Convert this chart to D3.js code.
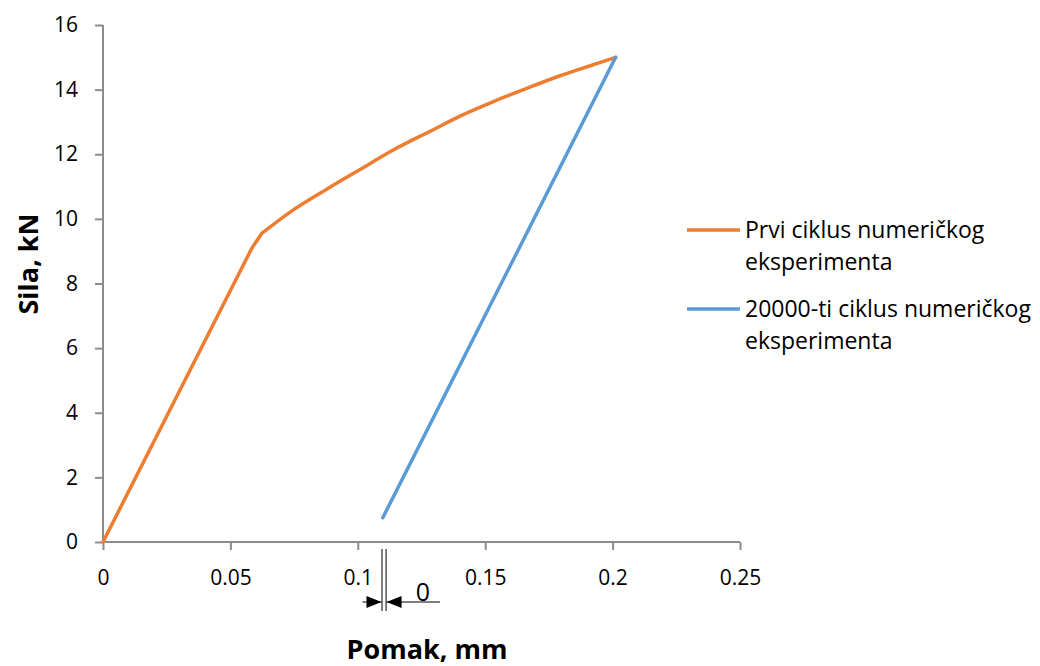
<!DOCTYPE html>
<html>
<head>
<meta charset="utf-8">
<script src="https://d3js.org/d3.v7.min.js"></script>
<style>
  body { margin: 0; background: #fff; }
  svg text { font-family: "Open Sans", sans-serif; fill: #000; }
</style>
</head>
<body>
<svg id="chart" width="1040" height="666"></svg>
<script>
// first cycle (orange) - displacement mm / force kN
var prviX = [0, 0.0584, 0.0623, 0.0747, 0.0878, 0.1009, 0.1139, 0.1296, 0.1401, 0.1532, 0.1663, 0.1794, 0.1924, 0.2012];
var prviY = [0, 9.09, 9.55, 10.28, 10.92, 11.53, 12.13, 12.76, 13.18, 13.63, 14.04, 14.43, 14.77, 15.0];
var kink = 2; // index where the straight elastic part ends
// 20000th cycle (blue)
var cikX = [0.1098, 0.2012];
var cikY = [0.75, 15.0];

var seriesLines = [["Prvi ciklus numeričkog", "eksperimenta"], ["20000-ti ciklus numeričkog", "eksperimenta"]];
var colors = ["#ED7D31", "#5B9BD5"];

var xTicks = [0, 0.05, 0.1, 0.15, 0.2, 0.25];
var yTicks = [0, 2, 4, 6, 8, 10, 12, 14, 16];

// offset marker between the two vertical lines (value "0")
var offsetX = [0.1095, 0.1111];
var offsetLabel = "0";

var svg = d3.select("#chart");
var x = d3.scaleLinear().domain([0, 0.25]).range([103, 740]);
var y = d3.scaleLinear().domain([0, 16]).range([542, 25]);
var axisColor = "#8c8c8c";

// axes
var xAxis = svg.append("g").attr("transform", "translate(0," + y(0) + ")")
  .call(d3.axisBottom(x).tickValues(xTicks).tickSize(8).tickPadding(20)
    .tickFormat(function(d){ return String(+d.toFixed(2)); }));
var yAxis = svg.append("g").attr("transform", "translate(" + x(0) + ",0)")
  .call(d3.axisLeft(y).tickValues(yTicks).tickSize(8).tickPadding(17));

[xAxis, yAxis].forEach(function(a){
  a.select(".domain").attr("stroke", axisColor).attr("stroke-width", 2);
  a.selectAll(".tick line").attr("stroke", axisColor).attr("stroke-width", 2);
  a.selectAll(".tick text").style("font-size", "21px").attr("fill", "#000");
});
xAxis.selectAll(".domain").attr("d", "M" + x(0) + ",0H" + x(0.25));
yAxis.selectAll(".domain").attr("d", "M0," + y(0) + "V" + y(16));

// series
var lin = d3.line().x(function(d){ return x(d[0]); }).y(function(d){ return y(d[1]); });
var smooth = d3.line().curve(d3.curveMonotoneX)
  .x(function(d){ return x(d[0]); }).y(function(d){ return y(d[1]); });
var prvi = d3.zip(prviX, prviY);
var paths = [
  { d: lin(prvi.slice(0, kink + 1)) + smooth(prvi.slice(kink)).replace(/^M[^A-Z]*/, ""), c: colors[0] },
  { d: lin(d3.zip(cikX, cikY)), c: colors[1] }
];
svg.append("g").selectAll("path").data(paths).enter().append("path")
  .attr("d", function(p){ return p.d; })
  .attr("fill", "none")
  .attr("stroke", function(p){ return p.c; })
  .attr("stroke-width", 3.5)
  .attr("stroke-linejoin", "round")
  .attr("stroke-linecap", "round");

// axis titles
svg.append("text").attr("x", 427).attr("y", 659).attr("text-anchor", "middle")
  .style("font-size", "27px").style("font-weight", "bold").text("Pomak, mm");
svg.append("text").attr("transform", "translate(38,264) rotate(-90)").attr("text-anchor", "middle")
  .style("font-size", "27px").style("font-weight", "bold").text("Sila, kN");

// legend
var leg = svg.append("g").selectAll("g").data(seriesLines).enter().append("g")
  .attr("transform", function(d, i){ return "translate(687," + (230 + i * 79) + ")"; });
leg.append("line").attr("x1", 0).attr("x2", 53).attr("y1", 0).attr("y2", 0)
  .attr("stroke", function(d, i){ return colors[i]; }).attr("stroke-width", 3.5);
leg.append("text").attr("x", 58).attr("y", 8).style("font-size", "23px")
  .selectAll("tspan").data(function(d){ return d; }).enter().append("tspan")
  .attr("x", 58).attr("dy", function(d, i){ return i ? 32 : 0; })
  .text(function(d){ return d; });

// offset annotation below the axis
var ann = svg.append("g");
offsetX.forEach(function(v){
  ann.append("line").attr("x1", x(v)).attr("x2", x(v)).attr("y1", 549).attr("y2", 611)
    .attr("stroke", "#000").attr("stroke-width", 1);
});
var ay = 602;
var xl = x(offsetX[0]) - 0.5, xr = x(offsetX[1]) + 0.5;
ann.append("line").attr("x1", xl - 19).attr("x2", xl).attr("y1", ay).attr("y2", ay).attr("stroke", "#000");
ann.append("path").attr("d", "M" + xl + "," + ay + "L" + (xl - 15) + "," + (ay - 6) + "L" + (xl - 15) + "," + (ay + 6) + "Z").attr("fill", "#000");
ann.append("line").attr("x1", xr).attr("x2", 440).attr("y1", ay).attr("y2", ay).attr("stroke", "#000");
ann.append("path").attr("d", "M" + xr + "," + ay + "L" + (xr + 15) + "," + (ay - 6) + "L" + (xr + 15) + "," + (ay + 6) + "Z").attr("fill", "#000");
ann.append("text").attr("x", 423).attr("y", 601).attr("text-anchor", "middle")
  .style("font-size", "25px").text(offsetLabel);
</script>
</body>
</html>
